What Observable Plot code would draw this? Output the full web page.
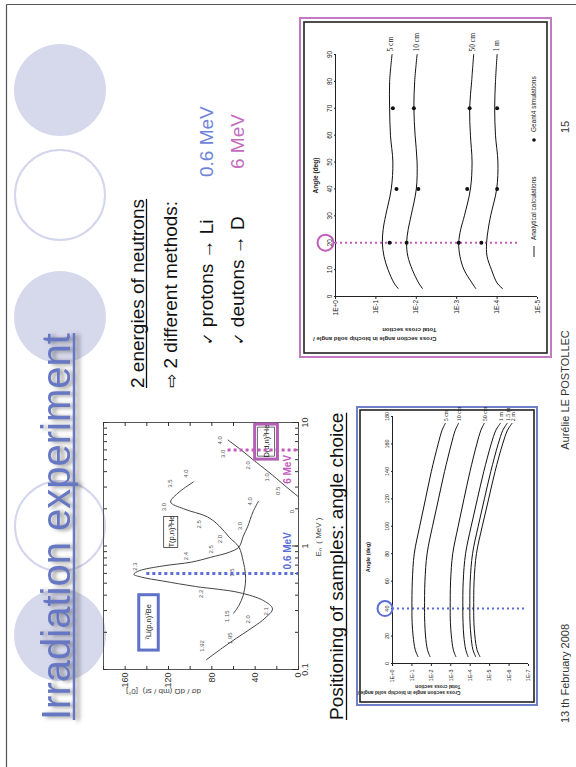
<!DOCTYPE html>
<html><head><meta charset="utf-8">
<script src="https://cdn.jsdelivr.net/npm/d3@7"></script>
<script src="https://cdn.jsdelivr.net/npm/@observablehq/plot@0.6"></script>
<style>
html,body{margin:0;padding:0;background:#fff;width:576px;height:767px;overflow:hidden;font-family:"Liberation Sans",Arial,sans-serif;}
#slide{position:absolute;left:0;top:0;width:767px;height:576px;transform-origin:0 0;transform:translate(0px,767px) rotate(-90deg);background:#fff;}
.chart{position:absolute;}
.chart svg{max-width:none !important;display:block;overflow:visible;}
</style></head><body>
<div id="slide">
<svg id="deco" width="767" height="576" style="position:absolute;left:0;top:0;overflow:visible" font-family="Liberation Sans, Arial, sans-serif">
  <line x1="0" y1="6.5" x2="762.5" y2="6.5" stroke="#555" stroke-width="1.2"/>
  <line x1="762.5" y1="6.5" x2="762.5" y2="576" stroke="#555" stroke-width="1.2"/>
  <circle cx="677" cy="60" r="46" fill="#d6d8ec"/>
  <circle cx="572" cy="60" r="45" fill="none" stroke="#d3d6ec" stroke-width="2"/>
  <circle cx="450" cy="60" r="46" fill="#d6d8ec"/>
  <circle cx="241" cy="60" r="45" fill="none" stroke="#d3d6ec" stroke-width="2"/>
  <circle cx="132" cy="60" r="46" fill="#d6d8ec"/>
  <g style="filter:drop-shadow(-1px 4px 2px rgba(70,70,70,0.6))">
    <text id="title" x="47" y="70" font-size="40" fill="#6677c4">Irradiation experiment</text>
    <line id="titleUL" x1="47" y1="74" x2="429" y2="74" stroke="#6677c4" stroke-width="2.5"/>
  </g>
  <text id="t1" x="379" y="144" font-size="19" fill="#111">2 energies of neutrons</text>
  <line id="t1UL" x1="379" y1="146.5" x2="569" y2="146.5" stroke="#111" stroke-width="1.3"/>
  <text x="379" y="177" font-size="19" fill="#111"><tspan font-family="DejaVu Sans" font-size="17">⇨</tspan> 2 different methods:</text>
  <text x="422" y="213" font-size="19" fill="#111"><tspan font-family="DejaVu Sans" font-size="15">✓</tspan> protons → Li</text>
  <text x="422" y="244" font-size="19" fill="#111"><tspan font-family="DejaVu Sans" font-size="15">✓</tspan> deutons → D</text>
  <text x="590" y="213" font-size="19" fill="#6f84d8">0.6 MeV</text>
  <text x="598" y="244" font-size="19" fill="#c46bc0">6 MeV</text>
  <text id="t2" x="47" y="343" font-size="19" fill="#111">Positioning of samples: angle choice</text>
  <line id="t2UL" x1="47" y1="346.5" x2="352" y2="346.5" stroke="#111" stroke-width="1.3"/>
  <rect x="410" y="300" width="339" height="251" fill="none" stroke="#c27ac2" stroke-width="2"/>
  <rect x="414" y="304" width="331" height="243" fill="#fff" stroke="#222" stroke-width="1.6"/>
  <rect x="62" y="357" width="298" height="180" fill="none" stroke="#6f80c8" stroke-width="2"/>
  <rect x="65" y="360" width="292" height="174" fill="#fff" stroke="#222" stroke-width="1.6"/>
  <line x1="510" y1="534" x2="521" y2="534" stroke="#222" stroke-width="1"/>
  <text x="527" y="536.3" font-size="6.5" fill="#222">Analytical calculations</text>
  <circle cx="627" cy="534" r="1.8" fill="#111"/>
  <text x="635" y="536.3" font-size="6.5" fill="#222">Geant4 simulations</text>
  <text x="44" y="569" font-size="11" fill="#333">13 th February 2008</text>
  <text x="377" y="569" font-size="11" fill="#333" text-anchor="middle">Aurélie LE POSTOLLEC</text>
  <text x="634" y="569" font-size="11" fill="#333">15</text>
</svg>
<div class="chart" id="li" style="left:67px;top:98px"></div>
<div class="chart" id="pink" style="left:420px;top:305px"></div>
<div class="chart" id="blue" style="left:68px;top:362px"></div>
</div>
<script>
// ---------- Neutron energy chart (dσ/dΩ at 0° vs En) ----------
const liE = [0.12,0.15,0.18,0.22,0.26,0.31,0.36,0.42,0.47,0.52,0.56,0.59,0.63,0.69,0.74,0.81,0.89,0.98,1.2,1.43,1.89,2.3];
const liS = [85,70,57,42,31,24,32,55,95,125,145,152,147,125,99,81,64,55,51,47,42,37];
const tE = [0.285,0.33,0.40,0.50,0.60,0.75,0.98,1.18,1.45,1.72,2.0,2.27,2.74,3.3];
const tS = [60,55,51,49,49,51,55,64,73,84,106,118,110,97];
const dE = [2.5,3.0,3.5,4.0,5.0,6.0,7.2];
const dS = [0,11,20,28,42,53,65];
const liLabelText = ["1.92","1.95","2.0","2.1","2.2","2.3","2.4","2.5","3.0","4.0"];
const liLabelE = [0.155,0.179,0.255,0.296,0.41,0.68,0.83,0.94,1.45,2.3];
const liLabelS = [89,63,47,30,90,151,104,81,54,45];
const tLabelText = ["1.15","1.5","2.0","2.5","3.0","3.5","4.0"];
const tLabelE = [0.27,0.61,1.14,1.5,2.07,3.2,3.85];
const tLabelS = [66,61,72,92,124,119,104];
const dLabelText = ["0.","0.5","1.0","2.0","3.0","4.0"];
const dLabelE = [1.93,2.8,3.6,4.5,5.58,7.18];
const dLabelS = [5.5,19,29,47,70,72];
const reactionNames = ["⁷Li(p,n)⁷Be","T(p,n)³He","D(d,n)³He"];
const reactionBoxE1 = [0.145,0.98,5.1];
const reactionBoxE2 = [0.407,1.75,9.8];
const reactionBoxS1 = [129,111,19];
const reactionBoxS2 = [147,124,40];
const chosenEnergies = [0.6, 6];
const chosenTop = [140, 65];
const chosenLabels = ["0.6 MeV","6 MeV"];
const liXTicks = [0.1,0.2,0.5,1,2,5,10];
const liXMinor = [0.1,0.2,0.3,0.4,0.5,0.6,0.7,0.8,0.9,1,2,3,4,5,6,7,8,9,10];
const liYTicks = [0,40,80,120,160];
const liYMinor = [0,20,40,60,80,100,120,140,160,180];

// ---------- 6 MeV angle chart (pink) ----------
const pinkAngles = [3,5,10,15,20,25,30,40,50,60,70,80,90];
const pinkSeries = ["5 cm","10 cm","50 cm","1 m"];
const pink5cm  = [-1.55,-1.45,-1.30,-1.20,-1.16,-1.18,-1.24,-1.38,-1.42,-1.36,-1.34,-1.34,-1.40];
const pink10cm = [-2.15,-2.06,-1.90,-1.79,-1.76,-1.80,-1.87,-2.00,-2.02,-1.97,-1.94,-1.96,-2.02];
const pink50cm = [-3.47,-3.38,-3.18,-3.08,-3.05,-3.10,-3.19,-3.34,-3.38,-3.34,-3.32,-3.37,-3.42];
const pink1m   = [-4.13,-4.00,-3.86,-3.75,-3.74,-3.78,-3.84,-3.99,-4.02,-3.96,-3.94,-3.96,-4.00];
const pinkDotAngles = [20,40,70];
const pinkDot5cm  = [-1.34,-1.51,-1.42];
const pinkDot10cm = [-1.76,-2.05,-1.94];
const pinkDot50cm = [-3.05,-3.26,-3.32];
const pinkDot1m   = [-3.61,-4.00,-4.00];
const pinkAngleTicks = [0,10,20,30,40,50,60,70,80,90];
const pinkYTicks = [0,-1,-2,-3,-4,-5];
const pinkYLabels = ["1E+0","1E-1","1E-2","1E-3","1E-4","1E-5"];
const pinkChosenAngle = [20];

// ---------- 0.6 MeV angle chart (blue) ----------
const blueAngles = [5,10,20,30,40,60,80,100,120,140,160,170,175];
const blueSeries = ["5 cm","10 cm","50 cm","1 m","1.5 m","2 m"];
const blue5cm  = [-1.31,-1.17,-1.06,-1.01,-1.00,-1.02,-1.12,-1.40,-1.70,-2.00,-2.35,-2.55,-2.72];
const blue10cm = [-1.93,-1.80,-1.70,-1.66,-1.65,-1.67,-1.78,-2.06,-2.37,-2.68,-3.03,-3.23,-3.40];
const blue50cm = [-3.26,-3.13,-3.03,-2.98,-2.97,-2.99,-3.10,-3.38,-3.68,-3.99,-4.34,-4.55,-4.72];
const blue1m   = [-3.89,-3.77,-3.67,-3.63,-3.62,-3.64,-3.76,-4.05,-4.37,-4.70,-5.08,-5.32,-5.55];
const blue15m  = [-4.28,-4.14,-4.04,-3.99,-3.98,-4.00,-4.12,-4.41,-4.73,-5.06,-5.44,-5.68,-5.90];
const blue2m   = [-4.50,-4.35,-4.24,-4.19,-4.18,-4.20,-4.32,-4.62,-4.95,-5.28,-5.67,-5.92,-6.15];
const blueAngleTicks = [0,20,40,60,80,100,120,140,160,180];
const blueYTicks = [0,-1,-2,-3,-4,-5,-6,-7];
const blueYLabels = ["1E+0","1E-1","1E-2","1E-3","1E-4","1E-5","1E-6","1E-7"];
const blueChosenAngle = [40];

const yTitle = "Cross section angle in biochip solid angle /\nTotal cross section";
const FONT = "Liberation Sans, Arial, sans-serif";
const BLUE = "#5a6ed6", MAG = "#c25cbc";

function pairs(xs, ys, xk, yk) { return xs.map((x, i) => ({[xk]: x, [yk]: ys[i]})); }
function labels(xs, ys, ts) { return xs.map((x, i) => ({e: x, s: ys[i], t: ts[i]})); }
function longData(xs, names, arrays) {
  const out = [];
  names.forEach((n, j) => arrays[j].forEach((v, i) => out.push({angle: xs[i], v, series: n})));
  return out;
}

try {
  // underline lengths
  for (const [tid, lid] of [["title","titleUL"],["t1","t1UL"],["t2","t2UL"]]) {
    const t = document.getElementById(tid), l = document.getElementById(lid);
    l.setAttribute("x2", +t.getAttribute("x") + t.getComputedTextLength());
  }

  const boxes = reactionNames.map((n, i) => ({n, x1: reactionBoxE1[i], x2: reactionBoxE2[i], y1: reactionBoxS1[i], y2: reactionBoxS2[i]}));
  const chosen = chosenEnergies.map((e, i) => ({e, top: chosenTop[i], t: chosenLabels[i]}));

  const li = Plot.plot({
    width: 282, height: 232,
    marginLeft: 30, marginRight: 5, marginTop: 5, marginBottom: 32,
    style: {background: "transparent", fontFamily: FONT, fontSize: "9px", color: "#333"},
    x: {type: "log", domain: [0.1, 10]},
    y: {domain: [0, 180]},
    marks: [
      Plot.frame({stroke: "#555"}),
      Plot.axisX(liXMinor, {anchor: "bottom", tickSize: -3, tickFormat: () => "", label: null}),
      Plot.axisX([0.1,1,10], {anchor: "bottom", tickSize: -6, tickFormat: () => "", label: null}),
      Plot.axisX(liXMinor, {anchor: "top", tickSize: -3, tickFormat: () => "", label: null}),
      Plot.axisX(liXTicks, {anchor: "bottom", tickSize: 0, tickPadding: 3, tickFormat: d => String(d), label: null}),
      Plot.axisY(liYMinor, {anchor: "left", tickSize: -4, tickFormat: () => "", label: null}),
      Plot.axisY(liYMinor, {anchor: "right", tickSize: -4, tickFormat: () => "", label: null}),
      Plot.axisY(liYTicks, {anchor: "left", tickSize: 0, tickPadding: 3, label: null}),
      Plot.text(["dσ / dΩ (mb / sr)  [0°]"], {text: d => d, frameAnchor: "left", rotate: -90, dx: -22, fontSize: 8, fill: "#444"}),
      Plot.text(["Eₙ  ( MeV )"], {text: d => d, frameAnchor: "bottom", dy: 22, dx: 9, fontSize: 8, fill: "#444"}),
      Plot.line(pairs(liE, liS, "e", "s"), {x: "e", y: "s", curve: "catmull-rom", stroke: "#444", strokeWidth: 1}),
      Plot.line(pairs(tE, tS, "e", "s"), {x: "e", y: "s", curve: "catmull-rom", stroke: "#444", strokeWidth: 1}),
      Plot.line(pairs(dE, dS, "e", "s"), {x: "e", y: "s", curve: "catmull-rom", stroke: "#444", strokeWidth: 1}),
      Plot.text(labels(liLabelE, liLabelS, liLabelText), {x: "e", y: "s", text: "t", fontSize: 6, fill: "#555"}),
      Plot.text(labels(tLabelE, tLabelS, tLabelText), {x: "e", y: "s", text: "t", fontSize: 6, fill: "#555"}),
      Plot.text(labels(dLabelE, dLabelS, dLabelText), {x: "e", y: "s", text: "t", fontSize: 6, fill: "#555"}),
      Plot.rect(boxes.slice(0,1), {x1: "x1", x2: "x2", y1: "y1", y2: "y2", fill: "white", stroke: "#5f72c8", strokeWidth: 3}),
      Plot.rect(boxes.slice(1,2), {x1: "x1", x2: "x2", y1: "y1", y2: "y2", fill: "white", stroke: "#333", strokeWidth: 0.8}),
      Plot.rect(boxes.slice(2,3), {x1: "x1", x2: "x2", y1: "y1", y2: "y2", fill: "white", stroke: "#b45fb4", strokeWidth: 3}),
      Plot.rect(boxes.slice(2,3), {x1: "x1", x2: "x2", y1: "y1", y2: "y2", fill: "none", stroke: "#333", strokeWidth: 0.7, inset: 3}),
      Plot.text(boxes, {x: d => Math.sqrt(d.x1 * d.x2), y: d => (d.y1 + d.y2) / 2, text: "n", fontSize: 7.5, fill: "#222"}),
      Plot.ruleX(chosen.slice(0,1), {x: "e", y1: "top", y2: 0, stroke: BLUE, strokeWidth: 3, strokeDasharray: "3,3"}),
      Plot.ruleX(chosen.slice(1,2), {x: "e", y1: "top", y2: 0, stroke: MAG, strokeWidth: 3, strokeDasharray: "3,3"}),
      Plot.text(chosen.slice(0,1), {x: "e", y: 0, text: "t", textAnchor: "start", dx: 4, dy: -11, fill: BLUE, fontWeight: "bold", fontSize: 10}),
      Plot.text(chosen.slice(1,2), {x: "e", y: 0, text: "t", textAnchor: "end", dx: -5, dy: -11, fill: MAG, fontWeight: "bold", fontSize: 10})
    ]
  });
  document.getElementById("li").appendChild(li);

  const pinkLines = longData(pinkAngles, pinkSeries, [pink5cm, pink10cm, pink50cm, pink1m]);
  const pinkDots = longData(pinkDotAngles, pinkSeries, [pinkDot5cm, pinkDot10cm, pinkDot50cm, pinkDot1m]);
  const pink = Plot.plot({
    width: 327, height: 237,
    marginLeft: 50, marginRight: 35, marginTop: 30, marginBottom: 5,
    style: {background: "transparent", fontFamily: FONT, fontSize: "6.5px", color: "#222"},
    x: {domain: [0, 90]},
    y: {domain: [-5, 0]},
    marks: [
      Plot.ruleY([0], {stroke: "#222"}),
      Plot.ruleX([0], {stroke: "#222"}),
      Plot.axisX(pinkAngleTicks, {anchor: "top", tickSize: 2, tickPadding: 1.5, label: null}),
      Plot.axisY(pinkYTicks, {anchor: "left", tickSize: 2, tickPadding: 1.5, tickFormat: d => pinkYLabels[Math.round(-d)], label: null}),
      Plot.text(["Angle (deg)"], {text: d => d, frameAnchor: "top", dy: -22, fontWeight: "bold", fontSize: 6.5}),
      Plot.text([yTitle], {text: d => d, frameAnchor: "left", rotate: -90, dx: -39, fontWeight: "bold", fontSize: 6, lineHeight: 1.55}),
      Plot.ruleX(pinkChosenAngle, {x: d => d, y1: 0, y2: -4.55, stroke: MAG, strokeWidth: 2, strokeDasharray: "2,3"}),
      Plot.dot(pinkChosenAngle, {x: d => d, y: 0, dy: -10, r: 8, stroke: MAG, strokeWidth: 2, fill: "none"}),
      Plot.line(pinkLines, {x: "angle", y: "v", z: "series", curve: "catmull-rom", stroke: "#111", strokeWidth: 1}),
      Plot.dot(pinkDots, {x: "angle", y: "v", r: 2, fill: "#111", stroke: "none"}),
      Plot.text(pinkLines, Plot.selectLast({x: "angle", y: "v", z: "series", text: "series", textAnchor: "start", dx: 3, dy: -1, fontSize: 7.5, fontFamily: "Liberation Serif, serif", fill: "#222"}))
    ]
  });
  document.getElementById("pink").appendChild(pink);

  const blueLines = longData(blueAngles, blueSeries, [blue5cm, blue10cm, blue50cm, blue1m, blue15m, blue2m]);
  const blue = Plot.plot({
    width: 302, height: 171,
    marginLeft: 35, marginRight: 20, marginTop: 30, marginBottom: 5,
    style: {background: "transparent", fontFamily: FONT, fontSize: "5.5px", color: "#222"},
    x: {domain: [0, 180]},
    y: {domain: [-7, 0]},
    marks: [
      Plot.ruleY([0], {stroke: "#222"}),
      Plot.ruleX([0], {stroke: "#222"}),
      Plot.axisX(blueAngleTicks, {anchor: "top", tickSize: 2, tickPadding: 1.5, label: null}),
      Plot.axisY(blueYTicks, {anchor: "left", tickSize: 2, tickPadding: 4, tickFormat: d => blueYLabels[Math.round(-d)], label: null}),
      Plot.text(["Angle (deg)"], {text: d => d, frameAnchor: "top", dx: -17, dy: -26, fontWeight: "bold", fontSize: 5.5}),
      Plot.text([yTitle], {text: d => d, frameAnchor: "left", rotate: -90, dx: -26, fontWeight: "bold", fontSize: 5, lineHeight: 1.2}),
      Plot.ruleX(blueChosenAngle, {x: d => d, y1: 0, y2: -6.8, stroke: BLUE, strokeWidth: 2, strokeDasharray: "2,3"}),
      Plot.dot(blueChosenAngle, {x: d => d, y: 0, dy: -7.5, r: 7.5, stroke: BLUE, strokeWidth: 2, fill: "none"}),
      Plot.line(blueLines, {x: "angle", y: "v", z: "series", curve: "catmull-rom", stroke: "#111", strokeWidth: 1}),
      Plot.text(blueLines, Plot.selectLast({x: "angle", y: "v", z: "series", text: "series", textAnchor: "start", dx: 2, dy: 1, fontSize: 6, fontFamily: "Liberation Serif, serif", fill: "#222"}))
    ]
  });
  document.getElementById("blue").appendChild(blue);
} catch (e) {
  document.body.insertAdjacentHTML("beforeend", "<pre style='position:absolute;top:0;left:0;color:red'>" + e + "</pre>");
  console.error(e);
}
</script>
</body></html>
